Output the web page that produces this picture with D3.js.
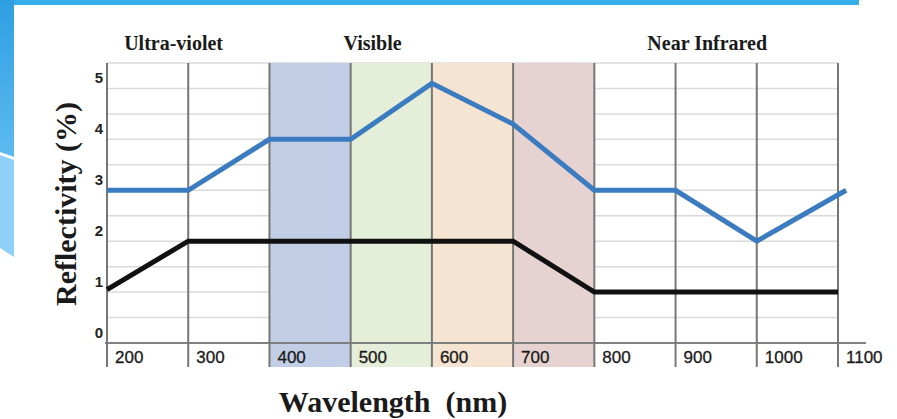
<!DOCTYPE html>
<html>
<head>
<meta charset="utf-8">
<script src="https://cdn.jsdelivr.net/npm/d3@7"></script>
<style>
  html, body { margin: 0; padding: 0; background: #ffffff; }
  svg { display: block; }
</style>
</head>
<body>
<svg id="chart" width="897" height="419"></svg>
<script>
// ---- data ----
const wavelengthTicks = [200, 300, 400, 500, 600, 700, 800, 900, 1000, 1100];
const reflectTicks = [0, 1, 2, 3, 4, 5];
const blueWavelengths = [200, 300, 400, 500, 600, 700, 800, 900, 1000, 1110];
const blueValues = [3.0, 3.0, 4.0, 4.0, 5.1, 4.3, 3.0, 3.0, 2.0, 3.0];
const blackWavelengths = [200, 300, 400, 500, 600, 700, 800, 900, 1000, 1100];
const blackValues = [1.05, 2.0, 2.0, 2.0, 2.0, 2.0, 1.0, 1.0, 1.0, 1.0];
const bandStarts = [400, 500, 600, 700];
const bandColors = ["#c2cde6", "#e5eed8", "#f6e4d2", "#e6d2d1"];
const regionLabels = ["Ultra-violet", "Visible", "Near Infrared"];
const regionCenters = [282, 527, 939];

const svg = d3.select("#chart");

// ---- slide decoration ----
const grad = svg.append("defs").append("linearGradient")
  .attr("id", "leftGrad").attr("x1", 0).attr("y1", 0).attr("x2", 0).attr("y2", 1);
grad.append("stop").attr("offset", "0%").attr("stop-color", "#2f9fe2");
grad.append("stop").attr("offset", "100%").attr("stop-color", "#5cbaf0");
svg.append("rect").attr("x", 0).attr("y", 0).attr("width", 859).attr("height", 5).attr("fill", "#36aeea");
svg.append("polygon").attr("points", "0,0 14,0 14,157 0,152").attr("fill", "url(#leftGrad)");
svg.append("polygon").attr("points", "0,155 14,160 14,257 0,248").attr("fill", "#8ed0f7");
svg.append("line").attr("x1", 0).attr("y1", 153.5).attr("x2", 14).attr("y2", 158.5)
  .attr("stroke", "#ffffff").attr("stroke-width", 1.5);

// ---- scales ----
const x = d3.scaleLinear().domain([200, 1100]).range([107, 838]);
const y = d3.scaleLinear().domain([0, 5.5]).range([343, 63]);
const plotTop = y(5.5), tickBottom = 367;

// horizontal gridlines
const gridVals = d3.range(0.5, 5.51, 0.5);
svg.append("g").selectAll("line").data(gridVals).join("line")
  .attr("x1", x(200)).attr("x2", x(1100))
  .attr("y1", d => y(d)).attr("y2", d => y(d))
  .attr("stroke", "#dadada").attr("stroke-width", 1.5);

// coloured bands
svg.append("g").selectAll("rect").data(bandStarts).join("rect")
  .attr("x", d => x(d)).attr("width", d => x(d + 100) - x(d))
  .attr("y", plotTop).attr("height", tickBottom - plotTop)
  .attr("fill", (d, i) => bandColors[i]);

// x axis line
svg.append("line").attr("x1", x(200) - 2).attr("x2", 866)
  .attr("y1", y(0)).attr("y2", y(0))
  .attr("stroke", "#808080").attr("stroke-width", 2);

// vertical lines
svg.append("g").selectAll("line").data(wavelengthTicks).join("line")
  .attr("x1", d => x(d)).attr("x2", d => x(d))
  .attr("y1", plotTop).attr("y2", tickBottom)
  .attr("stroke", "#777777").attr("stroke-width", 2);

// x tick labels
svg.append("g").selectAll("text").data(wavelengthTicks).join("text")
  .attr("x", d => x(d) + 8).attr("y", 363)
  .attr("font-family", "'Liberation Sans', Arial, sans-serif")
  .attr("font-size", 17).attr("fill", "#1a1a1a")
  .attr("stroke", "#1a1a1a").attr("stroke-width", 0.3)
  .text(d => d);

// y tick labels
svg.append("g").selectAll("text").data(reflectTicks).join("text")
  .attr("x", 103).attr("y", d => y(d) - 5)
  .attr("text-anchor", "end")
  .attr("font-family", "'Liberation Sans', Arial, sans-serif")
  .attr("font-weight", "bold")
  .attr("font-size", 15).attr("fill", "#222")
  .text(d => d);

// lines
const line = d3.line().x(d => x(d[0])).y(d => y(d[1]));
svg.append("path")
  .datum(blueWavelengths.map((w, i) => [w, blueValues[i]]))
  .attr("d", line).attr("fill", "none")
  .attr("stroke", "#3b7cc0").attr("stroke-width", 5).attr("stroke-linejoin", "miter");
svg.append("path")
  .datum(blackWavelengths.map((w, i) => [w, blackValues[i]]))
  .attr("d", line).attr("fill", "none")
  .attr("stroke", "#111111").attr("stroke-width", 5).attr("stroke-linejoin", "miter");

// region headers
svg.append("g").selectAll("text").data(regionLabels).join("text")
  .attr("x", (d, i) => x(regionCenters[i])).attr("y", 50)
  .attr("text-anchor", "middle")
  .attr("font-family", "'Liberation Serif', 'Times New Roman', serif")
  .attr("font-weight", "bold").attr("font-size", 20).attr("fill", "#1a1a1a")
  .text(d => d);

// axis titles
svg.append("text")
  .attr("x", 393).attr("y", 412)
  .attr("text-anchor", "middle")
  .attr("font-family", "'Liberation Serif', 'Times New Roman', serif")
  .attr("font-weight", "bold").attr("font-size", 30).attr("fill", "#1a1a1a")
  .style("white-space", "pre")
  .text("Wavelength  (nm)");
svg.append("text")
  .attr("transform", "translate(76,204) rotate(-90)")
  .attr("text-anchor", "middle")
  .attr("font-family", "'Liberation Serif', 'Times New Roman', serif")
  .attr("font-weight", "bold").attr("font-size", 30).attr("fill", "#1a1a1a")
  .text("Reflectivity (%)");
</script>
</body>
</html>
